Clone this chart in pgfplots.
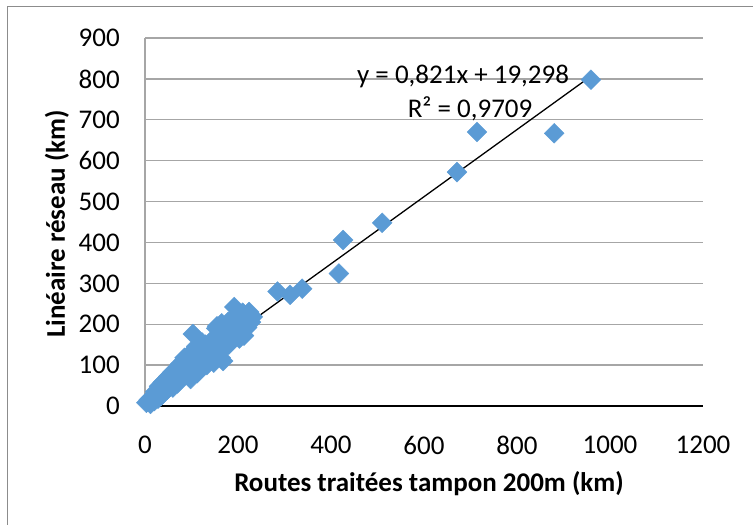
\documentclass[border=0pt]{standalone}
\usepackage{fontspec}
\setmainfont{Carlito}
\usepackage{pgfplots}
\pgfplotsset{compat=1.18}
\definecolor{ptblue}{HTML}{5B9BD5}
\definecolor{gridgray}{HTML}{A6A6A6}
\definecolor{framegray}{HTML}{8C8C8C}
\newcommand{\chartfont}{\fontsize{27}{32}\selectfont}
\begin{document}
\chartfont
\begin{tikzpicture}[x=1pt,y=1pt]
\begin{axis}[
  at={(145pt,119pt)}, anchor=south west,
  scale only axis, width=558pt, height=368pt,
  xmin=0, xmax=1200, ymin=0, ymax=900,
  xtick distance=200, ytick distance=100,
  axis lines*=left,
  x axis line style={black, line width=1.3pt},
  y axis line style={gridgray, line width=1.3pt},
  ymajorgrids, major grid style={gridgray, line width=1.3pt},
  tick style={draw=none},
  clip=false,
  /pgf/number format/assume math mode=true,
  /pgf/number format/1000 sep={},
  yticklabel style={font=\chartfont, anchor=east, inner sep=0pt, xshift=-25pt},
  xticklabel style={font=\chartfont, anchor=north, inner sep=0pt, yshift=-30pt},
]
\addplot[only marks, mark=square*, mark size=7pt,
  mark options={rotate=45, fill=ptblue, draw=ptblue}] coordinates {
(3,8) (8,15) (12,5) (15,22) (20,12) (22,35) (25,28) (28,18) (30,48)
(33,40) (35,25) (38,58) (40,36) (42,50) (45,62) (48,40) (50,72) (52,55)
(55,48) (58,82) (60,45) (62,66) (65,65) (68,92) (70,55) (72,78) (75,102)
(78,70) (80,86) (83,110) (85,118) (88,76) (90,100) (92,122) (95,88)
(98,66) (100,92) (103,176) (105,132) (108,112) (110,146) (112,80)
(115,100) (118,126) (120,140) (123,155) (125,116) (130,150) (133,100)
(135,132) (140,122) (143,160) (145,155) (148,106) (150,142) (153,190)
(155,195) (158,172) (160,130) (163,118) (165,202) (168,110) (170,162)
(175,186) (178,205) (180,150) (185,176) (188,215) (192,242) (195,202)
(198,190) (200,216) (203,165) (205,182) (210,228) (213,172) (216,200)
(220,192) (224,230) (228,205) (232,218)
(285,280) (312,272) (338,287) (417,324) (426,406) (510,448)
(671,572) (714,670) (880,667) (959,798)
};
\addplot[black, line width=1.3pt] coordinates {(5,23.4) (959,806.6)};
\node[anchor=center, inner sep=0pt, font=\chartfont] at (axis cs:684,807) {y = 0,821x + 19,298};
\node[anchor=center, inner sep=0pt, font=\chartfont] at (axis cs:699,726) {R² = 0,9709};
\end{axis}
\node[font=\chartfont\bfseries, rotate=90] at (57,301) {Linéaire réseau (km)};
\node[font=\chartfont\bfseries] at (429,41) {Routes traitées tampon 200m (km)};
\draw[framegray, line width=1pt] (7,-5) -- (7,518) -- (760,518);
\pgfresetboundingbox
\path[use as bounding box] (0,0) rectangle (753,525);
\end{tikzpicture}
\end{document}
